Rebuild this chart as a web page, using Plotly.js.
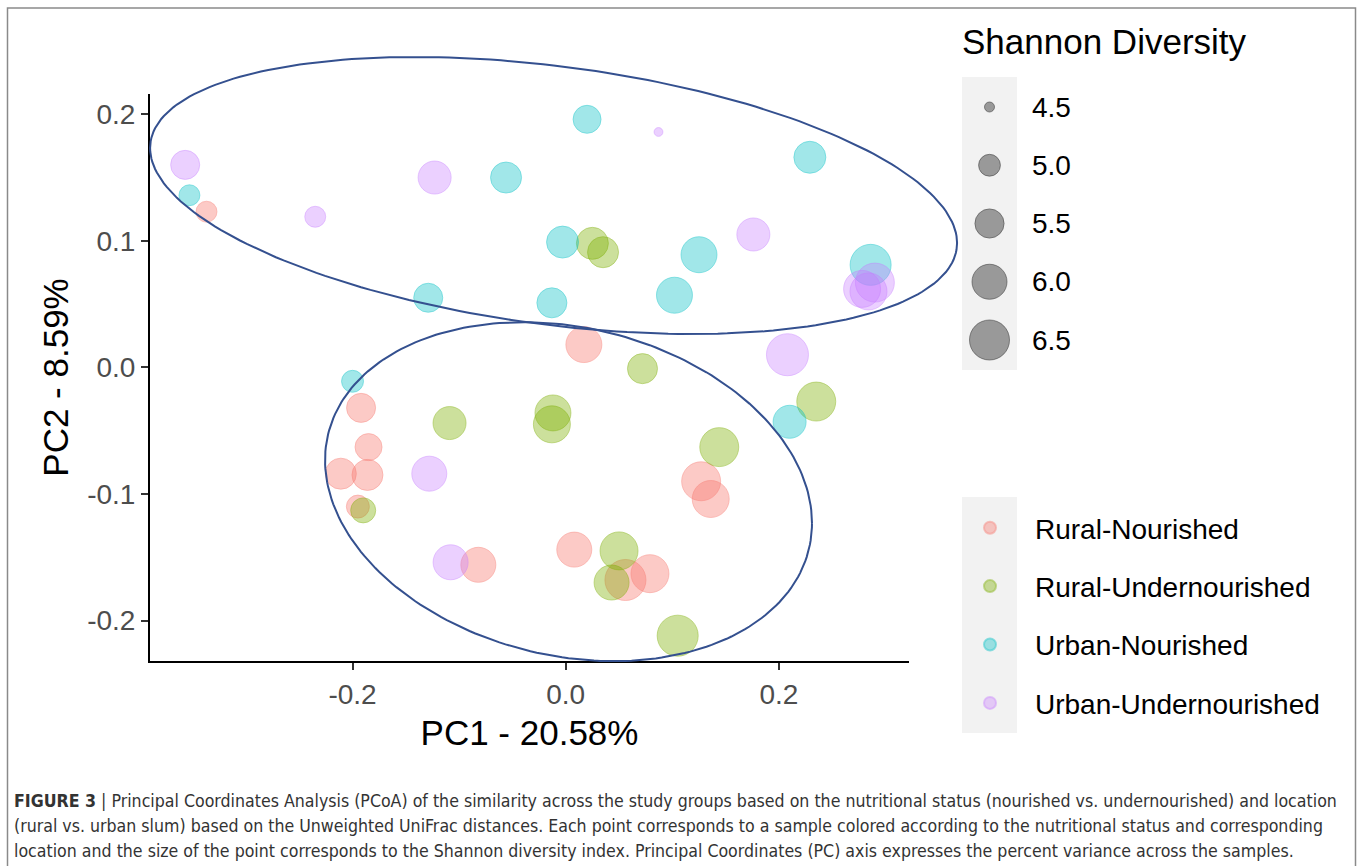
<!DOCTYPE html>
<html><head><meta charset="utf-8">
<script src="https://cdn.plot.ly/plotly-3.0.1.min.js"></script>
<style>html,body{margin:0;padding:0;background:#fff}#chart{width:1358px;height:866px}</style>
</head><body><div id="chart"></div>
<script>
// ---------------- data ----------------
const groupNames = ['Rural-Nourished', 'Rural-Undernourished', 'Urban-Nourished', 'Urban-Undernourished'];

const ruralNourishedPC1 = [-0.337, 0.017, -0.192, -0.185, -0.211, -0.186, -0.195, 0.008, 0.056, 0.079, -0.082, 0.127, 0.136];
const ruralNourishedPC2 = [0.123, 0.018, -0.032, -0.063, -0.084, -0.085, -0.110, -0.144, -0.168, -0.163, -0.156, -0.090, -0.104];
const ruralNourishedShannon = [4.95, 6.09, 5.49, 5.34, 5.65, 5.65, 5.07, 6.00, 6.61, 6.29, 6.00, 6.39, 6.19];

const ruralUnderPC1 = [0.025, 0.035, 0.072, -0.109, -0.012, -0.013, -0.190, 0.050, 0.043, 0.105, 0.235, 0.144];
const ruralUnderPC2 = [0.098, 0.091, -0.001, -0.044, -0.036, -0.045, -0.113, -0.145, -0.170, -0.212, -0.027, -0.063];
const ruralUnderShannon = [5.73, 5.65, 5.57, 5.82, 6.09, 6.19, 5.20, 6.29, 6.00, 6.61, 6.39, 6.39];

const urbanNourishedPC1 = [-0.353, 0.020, 0.229, -0.056, -0.003, 0.125, 0.102, -0.013, -0.129, 0.286, -0.200, 0.210];
const urbanNourishedPC2 = [0.136, 0.196, 0.166, 0.150, 0.099, 0.089, 0.057, 0.051, 0.055, 0.081, -0.011, -0.043];
const urbanNourishedShannon = [4.95, 5.41, 5.73, 5.65, 5.73, 6.09, 6.09, 5.57, 5.49, 6.61, 5.01, 5.82];

const urbanUnderPC1 = [-0.357, -0.235, -0.123, 0.087, 0.176, 0.290, 0.278, 0.284, 0.208, -0.128, -0.108];
const urbanUnderPC2 = [0.160, 0.119, 0.150, 0.186, 0.105, 0.067, 0.062, 0.060, 0.010, -0.084, -0.154];
const urbanUnderShannon = [5.49, 4.95, 5.82, 4.47, 5.82, 6.39, 6.19, 6.19, 6.72, 6.00, 6.00];

const shannonBreaks = [4.5, 5.0, 5.5, 6.0, 6.5];
const shannonBreakLabels = ['4.5', '5.0', '5.5', '6.0', '6.5'];

const xTickVals = [-0.2, 0.0, 0.2];
const xTickText = ['-0.2', '0.0', '0.2'];
const yTickVals = [-0.2, -0.1, 0.0, 0.1, 0.2];
const yTickText = ['-0.2', '-0.1', '0.0', '0.1', '0.2'];

// cluster ellipses (centre + conjugate semi-axes, data units)
const upperEllipseCenter = [-0.0114, 0.1358];
const upperEllipseU = [0.3785, -0.0375];
const upperEllipseV = [0.0, 0.1028];
const lowerEllipseCenter = [0.0026, -0.0982];
const lowerEllipseU = [0.2284, -0.0249];
const lowerEllipseV = [0.0, 0.1316];

// ---------------- styling ----------------
const FONT = 'Liberation Sans, Arial, Helvetica, sans-serif';
const CAPFONT = 'Liberation Sans Narrow, Arial Narrow, DejaVu Sans Condensed, Liberation Sans, sans-serif';
const W = 1358, H = 866;
const plotPx = {left: 150, right: 909, top: 94, bottom: 661};
const xRange = [-0.390, 0.322];
const yRange = [-0.232, 0.216];

const fills = ['rgba(248,118,109,0.55)', 'rgba(124,174,0,0.55)', 'rgba(0,191,196,0.52)', 'rgba(199,124,255,0.5)'];
const edges = ['rgba(248,118,109,0.6)', 'rgba(124,174,0,0.6)', 'rgba(0,191,196,0.6)', 'rgba(199,124,255,0.6)'];

// size scale: marker area linear in Shannon diversity
function sizeScale(v) { return Math.sqrt(100 + (v - 4.5) * 750); }

const groupX = [ruralNourishedPC1, ruralUnderPC1, urbanNourishedPC1, urbanUnderPC1];
const groupY = [ruralNourishedPC2, ruralUnderPC2, urbanNourishedPC2, urbanUnderPC2];
const groupS = [ruralNourishedShannon, ruralUnderShannon, urbanNourishedShannon, urbanUnderShannon];

const traces = [];
groupNames.forEach((name, i) => {
  traces.push({
    type: 'scatter', mode: 'markers', name: name,
    x: groupX[i], y: groupY[i], xaxis: 'x', yaxis: 'y',
    legendgroup: 'g' + i, legend: 'legend',
    cliponaxis: false,
    marker: {
      size: groupS[i].map(sizeScale), sizemode: 'diameter',
      color: fills[i], line: {color: edges[i], width: 1}
    },
    hovertemplate: name + '<br>PC1 %{x}<br>PC2 %{y}<extra></extra>'
  });
});

// overlay axes covering the whole figure so ellipses are not clipped
const dom = {
  x: [plotPx.left / W, plotPx.right / W],
  y: [(H - plotPx.bottom) / H, (H - plotPx.top) / H]
};
const sx = (xRange[1] - xRange[0]) / (plotPx.right - plotPx.left);
const sy = (yRange[1] - yRange[0]) / (plotPx.bottom - plotPx.top);
const x2Range = [xRange[0] - plotPx.left * sx, xRange[1] + (W - plotPx.right) * sx];
const y2Range = [yRange[0] - (H - plotPx.bottom) * sy, yRange[1] + plotPx.top * sy];

function ellipseTrace(c, u, v) {
  const xs = [], ys = [];
  for (let k = 0; k <= 240; k++) {
    const t = 2 * Math.PI * k / 240;
    xs.push(c[0] + u[0] * Math.cos(t) + v[0] * Math.sin(t));
    ys.push(c[1] + u[1] * Math.cos(t) + v[1] * Math.sin(t));
  }
  return {type: 'scatter', mode: 'lines', x: xs, y: ys, xaxis: 'x2', yaxis: 'y2',
    line: {color: '#34508F', width: 2}, showlegend: false, hoverinfo: 'skip'};
}
traces.push(ellipseTrace(upperEllipseCenter, upperEllipseU, upperEllipseV));
traces.push(ellipseTrace(lowerEllipseCenter, lowerEllipseU, lowerEllipseV));

// size legend keys (own small axes)
const sizeLegendPx = {left: 962, right: 1017, top: 77, bottom: 370, first: 107, step: 58.25};
const idx = shannonBreaks.map((b, i) => i);
const y3Range = [
  (sizeLegendPx.bottom - sizeLegendPx.first) / sizeLegendPx.step,
  (sizeLegendPx.top - sizeLegendPx.first) / sizeLegendPx.step
];
traces.push({
  type: 'scatter', mode: 'markers', x: idx.map(() => 0.5), y: idx,
  xaxis: 'x3', yaxis: 'y3', showlegend: false, hoverinfo: 'skip', cliponaxis: false,
  marker: {size: shannonBreaks.map(sizeScale), color: 'rgba(0,0,0,0.52)', line: {color: 'rgba(0,0,0,0.6)', width: 1}}
});

const annotations = [];
shannonBreakLabels.forEach((lab, i) => {
  annotations.push({xref: 'paper', yref: 'y3', x: 1030 / W, y: i, text: lab, showarrow: false,
    xanchor: 'left', yanchor: 'middle', font: {family: FONT, size: 28, color: '#000'}});
});
annotations.push({xref: 'paper', yref: 'paper', x: 960 / W, y: (H - 41) / H, text: 'Shannon Diversity',
  showarrow: false, xanchor: 'left', yanchor: 'middle', font: {family: FONT, size: 35, color: '#000'}});

const captionLines = [
  '<b>FIGURE 3</b> | Principal Coordinates Analysis (PCoA) of the similarity across the study groups based on the nutritional status (nourished vs. undernourished) and location',
  '(rural vs. urban slum) based on the Unweighted UniFrac distances. Each point corresponds to a sample colored according to the nutritional status and corresponding',
  'location and the size of the point corresponds to the Shannon diversity index. Principal Coordinates (PC) axis expresses the percent variance across the samples.'
];
const captionY = [801, 826, 851];
captionLines.forEach((t, i) => {
  annotations.push({xref: 'paper', yref: 'paper', x: 12 / W, y: (H - captionY[i]) / H, text: t,
    showarrow: false, xanchor: 'left', yanchor: 'middle', font: {family: CAPFONT, size: 17.6, color: '#333'}});
});

const shapes = [
  {type: 'rect', xref: 'paper', yref: 'paper', x0: 962 / W, x1: 1017 / W, y0: (H - 370) / H, y1: (H - 77) / H,
    fillcolor: '#F2F2F2', line: {width: 0}, layer: 'below'},
  {type: 'rect', xref: 'paper', yref: 'paper', x0: 962 / W, x1: 1017 / W, y0: (H - 733) / H, y1: (H - 497) / H,
    fillcolor: '#F2F2F2', line: {width: 0}, layer: 'below'},
  {type: 'rect', xref: 'paper', yref: 'paper', x0: 7.5 / W, x1: 1355.5 / W, y0: -0.05, y1: (H - 8) / H,
    fillcolor: 'rgba(0,0,0,0)', line: {color: '#8a8a8a', width: 1.5}, layer: 'below'}
];

const layout = {
  width: W, height: H,
  margin: {l: 0, r: 0, t: 0, b: 0, pad: 0},
  paper_bgcolor: '#fff', plot_bgcolor: 'rgba(0,0,0,0)',
  font: {family: FONT, color: '#000'},
  showlegend: true,
  xaxis: {
    domain: dom.x, range: xRange, anchor: 'y', zeroline: false, showgrid: false,
    showline: true, linecolor: '#000', linewidth: 2, mirror: false,
    ticks: 'outside', ticklen: 7, tickwidth: 1.5, tickcolor: '#333',
    tickvals: xTickVals, ticktext: xTickText,
    tickfont: {family: FONT, size: 28, color: '#4D4D4D'},
    title: {text: 'PC1 - 20.58%', font: {family: FONT, size: 35, color: '#000'}, standoff: 12}
  },
  yaxis: {
    domain: dom.y, range: yRange, anchor: 'x', zeroline: false, showgrid: false,
    showline: true, linecolor: '#000', linewidth: 2, mirror: false,
    ticks: 'outside', ticklen: 7, tickwidth: 1.5, tickcolor: '#333',
    tickvals: yTickVals, ticktext: yTickText,
    tickfont: {family: FONT, size: 28, color: '#4D4D4D'},
    title: {text: 'PC2 - 8.59%', font: {family: FONT, size: 35, color: '#000'}, standoff: 8}
  },
  xaxis2: {domain: [0, 1], range: x2Range, anchor: 'y2', visible: false, fixedrange: true},
  yaxis2: {domain: [0, 1], range: y2Range, anchor: 'x2', visible: false, fixedrange: true},
  xaxis3: {domain: [sizeLegendPx.left / W, sizeLegendPx.right / W], range: [0, 1], anchor: 'y3', visible: false, fixedrange: true},
  yaxis3: {domain: [(H - sizeLegendPx.bottom) / H, (H - sizeLegendPx.top) / H], range: y3Range, anchor: 'x3', visible: false, fixedrange: true},
  legend: {
    x: 945 / W, xanchor: 'left', y: (H - 503) / H, yanchor: 'top',
    font: {family: FONT, size: 28, color: '#000'}, bgcolor: 'rgba(0,0,0,0)',
    itemsizing: 'constant', traceorder: 'grouped', tracegroupgap: 19, itemwidth: 80
  },
  shapes: shapes,
  annotations: annotations
};

Plotly.newPlot('chart', traces, layout, {displayModeBar: false, staticPlot: false});
</script>
</body></html>
